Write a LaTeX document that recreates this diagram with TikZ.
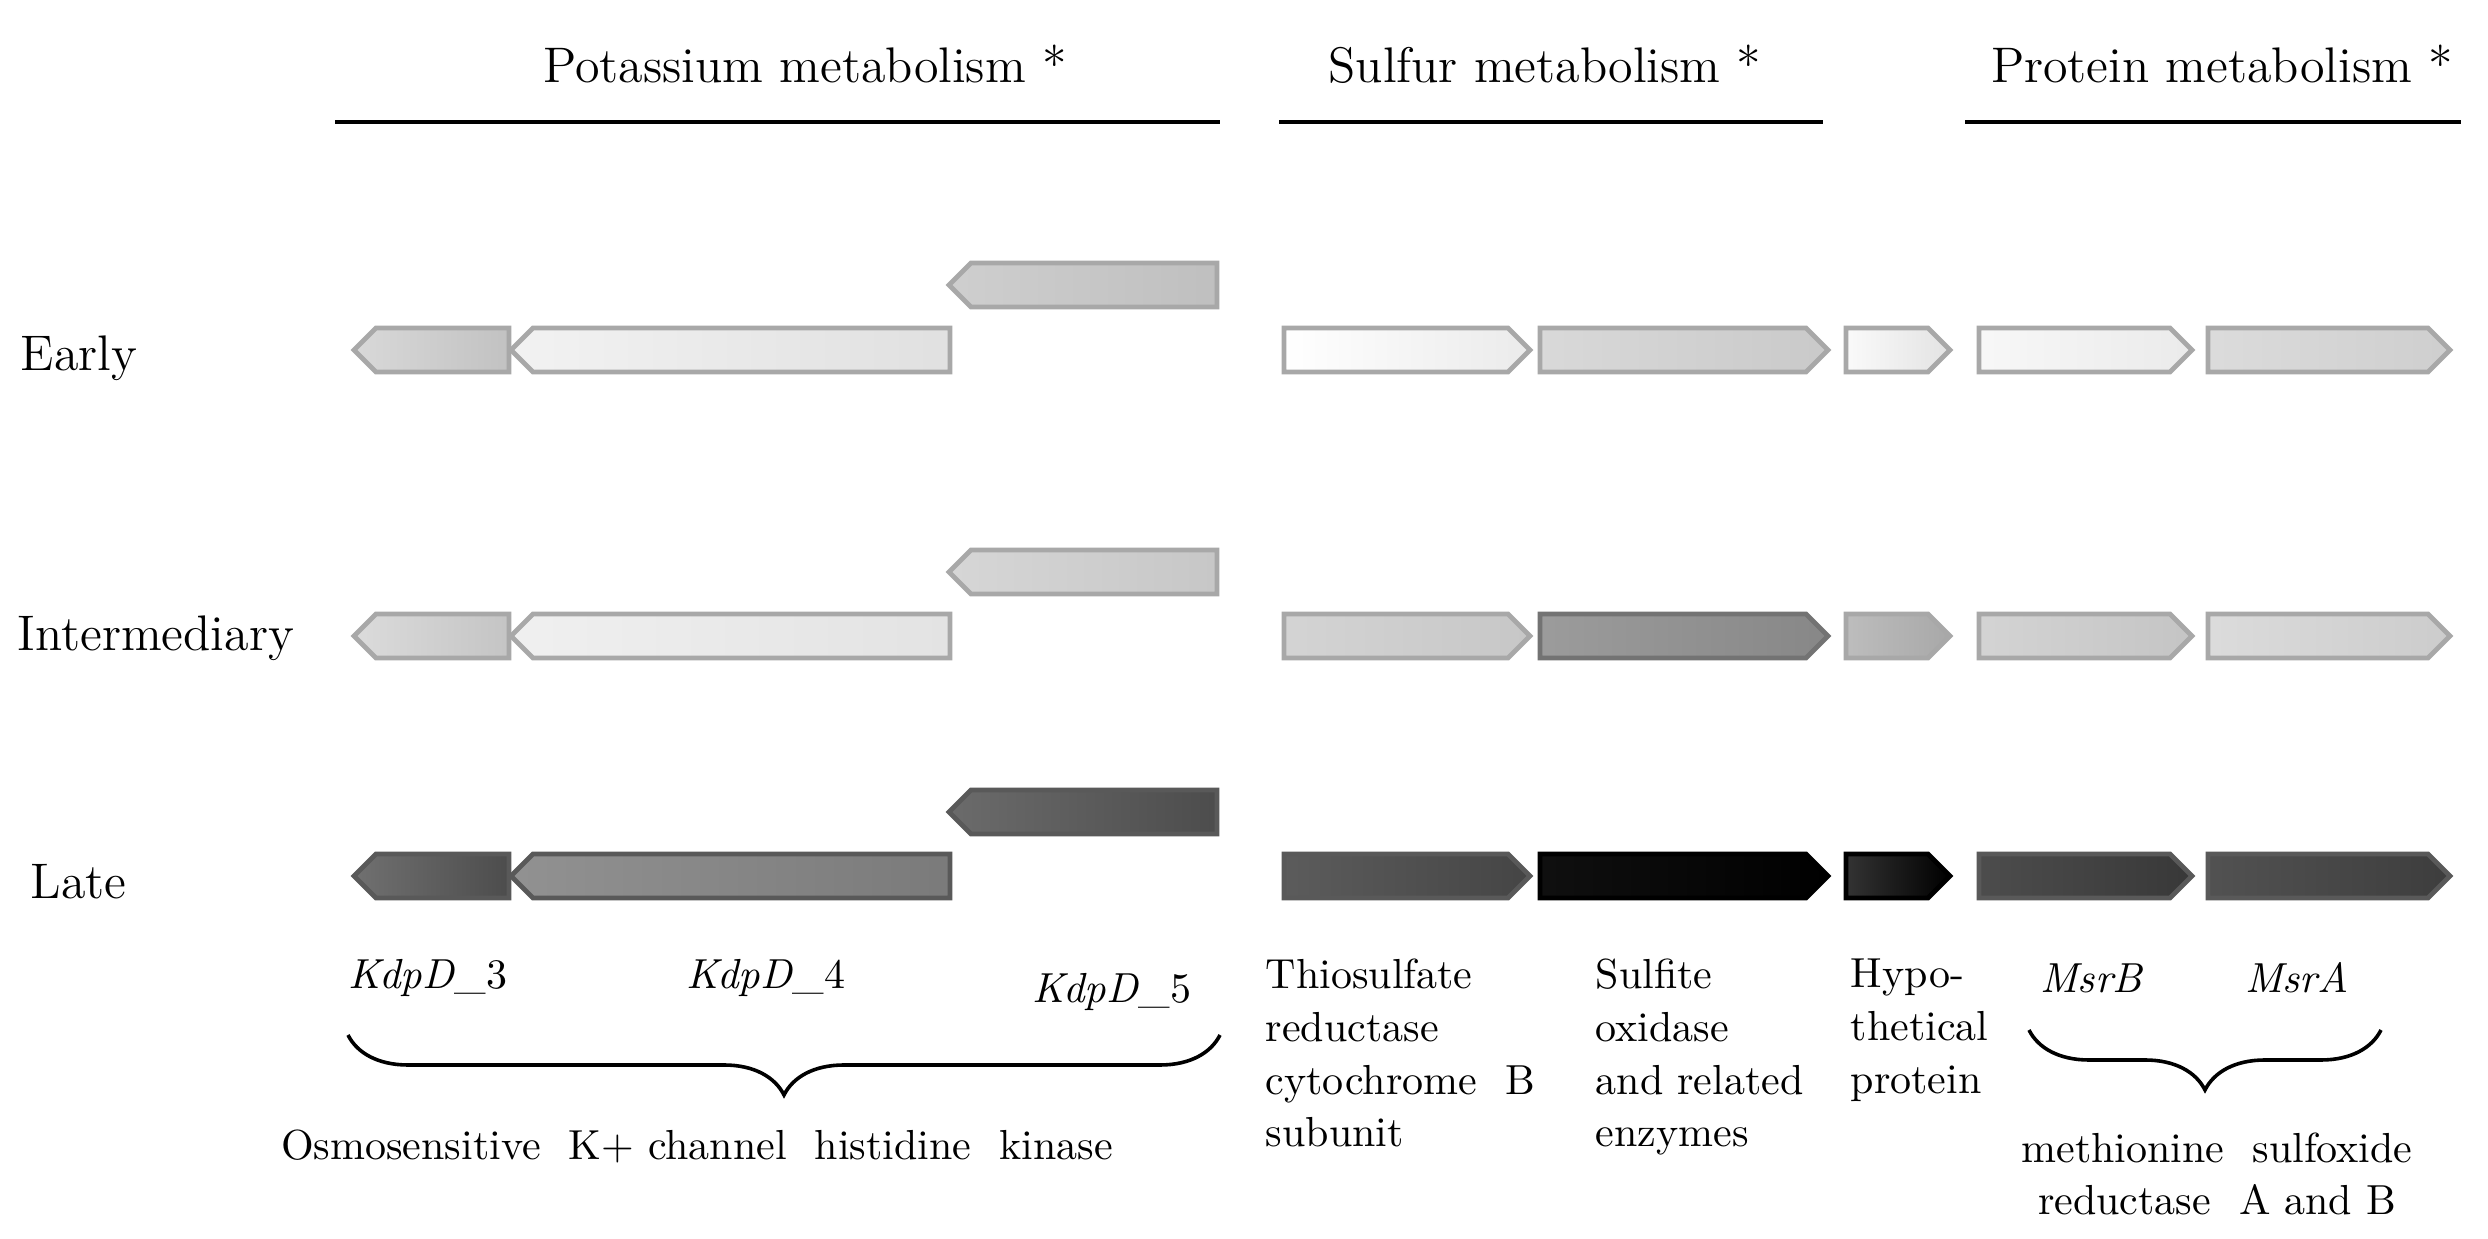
\documentclass[tikz,border=0pt]{standalone}
\usetikzlibrary{decorations.pathreplacing}
\begin{document}
\begin{tikzpicture}[x=0.25pt,y=-0.25pt,
  head/.style={font=\fontsize{12.5}{14}\selectfont, inner sep=0pt},
  rowlab/.style={font=\fontsize{12.5}{14}\selectfont, inner sep=0pt, anchor=west},
  lab/.style={font=\fontsize{10.5}{13.2}\selectfont, inner sep=0pt, align=left, anchor=north west},
  gene/.style={font=\fontsize{10.5}{12}\selectfont, inner sep=0pt},
  rule/.style={line width=1.1pt},
  brc/.style={decorate, decoration={brace, mirror, amplitude=15pt}, line width=0.9pt}]
\useasboundingbox (0,0) rectangle (2488,1239);
\fill[white] (0,0) rectangle (2488,1239);
\definecolor{bd}{gray}{0.66}
\definecolor{bdd}{gray}{0.35}
% #1 x1, #2 x2, #3 yc, #4 left darkness, #5 right darkness, #6 border
\newcommand{\rarr}[6]{\path[left color=black!#4,right color=black!#5,draw=#6,line width=1.2pt]
  (#1,#3-22) -- (#2-22,#3-22) -- (#2,#3) -- (#2-22,#3+22) -- (#1,#3+22) -- cycle;}
\newcommand{\larr}[6]{\path[left color=black!#4,right color=black!#5,draw=#6,line width=1.2pt]
  (#2,#3-22) -- (#1+22,#3-22) -- (#1,#3) -- (#1+22,#3+22) -- (#2,#3+22) -- cycle;}
% headings
\node[head] (hk) at (805,64) {Potassium metabolism *};
\node[head] (hs) at (1545,64) {Sulfur metabolism *};
\node[head] (hp) at (2222,64) {Protein metabolism *};
\draw[rule] (335,122) -- (1220,122);
\draw[rule] (1279,122) -- (1823,122);
\draw[rule] (1965,122) -- (2461,122);
% row labels
\node[rowlab] (re) at (20,358) {Early};
\node[rowlab] (ri) at (17,638) {Intermediary};
\node[rowlab] (rl) at (30,882) {Late};
% Early
\larr{949}{1217}{285}{19}{25}{bd}
\larr{354}{509}{350}{15}{24}{bd}
\larr{511}{950}{350}{5}{12}{bd}
\rarr{1284}{1530}{350}{0}{8}{bd}
\rarr{1540}{1828}{350}{15}{21}{bd}
\rarr{1846}{1950}{350}{2}{11}{bd}
\rarr{1979}{2192}{350}{3}{8}{bd}
\rarr{2208}{2450}{350}{14}{19}{bd}
% Intermediary
\larr{949}{1217}{572}{16}{22}{bd}
\larr{354}{509}{636}{14}{23}{bd}
\larr{511}{950}{636}{6}{11}{bd}
\rarr{1284}{1530}{636}{17}{22}{bd}
\rarr{1540}{1828}{636}{39}{47}{black!55}
\rarr{1846}{1950}{636}{26}{34}{bd}
\rarr{1979}{2192}{636}{17}{23}{bd}
\rarr{2208}{2450}{636}{14}{20}{bd}
% Late
\larr{949}{1217}{812}{58}{70}{bdd}
\larr{354}{509}{876}{56}{70}{bdd}
\larr{511}{950}{876}{43}{52}{bdd}
\rarr{1284}{1530}{876}{64}{73}{bdd}
\rarr{1540}{1828}{876}{94}{100}{black}
\rarr{1846}{1950}{876}{80}{100}{black}
\rarr{1979}{2192}{876}{70}{78}{bdd}
\rarr{2208}{2450}{876}{68}{76}{bdd}
% gene names
\node[gene] (g3) at (428,978) {\textit{KdpD}\_3};
\node[gene] (g4) at (766,978) {\textit{KdpD}\_4};
\node[gene] (g5) at (1112,992) {\textit{KdpD}\_5};
\node[gene] (gb) at (2092,978) {\textit{MsrB}};
\node[gene] (ga) at (2297,978) {\textit{MsrA}};
% braces
\coordinate (b1l) at (348,1035);
\coordinate (b1r) at (1220,1035);
\draw[brc] (b1l) -- (b1r);
\coordinate (b2l) at (2029,1030);
\coordinate (b2r) at (2381,1030);
\draw[brc] (b2l) -- (b2r);
% descriptions
\node[font=\fontsize{10.5}{12}\selectfont, inner sep=0pt] (dk) at (697,1146) {Osmosensitive\ \ K+ channel\ \ histidine\ \ kinase};
\node[lab] (d1) at (1265,958) {Thiosulfate\\reductase\\cytochrome\ \ B\\subunit};
\node[lab] (d2) at (1595,958) {Sulfite\\oxidase\\and related\\enzymes};
\node[lab] (d3) at (1850,958) {Hypo-\\thetical\\protein};
\node[font=\fontsize{10.5}{13.2}\selectfont, inner sep=0pt, align=center] (dm) at (2217,1174) {methionine\ \ sulfoxide\\reductase\ \ A and B};
\end{tikzpicture}
\end{document}
